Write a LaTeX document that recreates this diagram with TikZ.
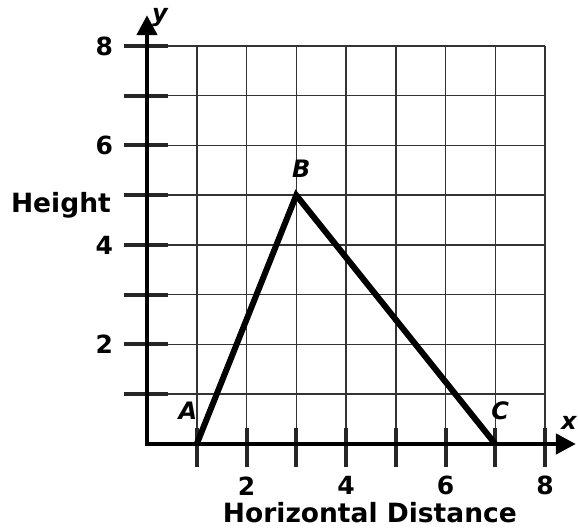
\documentclass[tikz,border=0pt]{standalone}
\usepackage{fontspec}
\setmainfont{DejaVu Sans}
\usetikzlibrary{arrows.meta}
\begin{document}
\begin{tikzpicture}[x=1pt,y=1pt,
  gridline/.style={line width=1.5pt,black!80},
  axisline/.style={line width=4.5pt,black},
  tickline/.style={line width=4pt,black!85},
  tri/.style={line width=6pt,black,line join=miter},
  num/.style={font=\fontsize{25}{25}\selectfont\bfseries,inner sep=0pt},
  ptlabel/.style={font=\fontsize{24}{24}\selectfont\bfseries\itshape,inner sep=0pt},
  axtitle/.style={font=\fontsize{26.5}{26.5}\selectfont\bfseries,inner sep=0pt}]
\useasboundingbox (0,0) rectangle (578,529);
\begin{scope}[shift={(147,85)},x=49.75pt,y=49.75pt]
  % grid
  \foreach \i in {1,...,8} {
    \draw[gridline] (\i,0) -- (\i,8);
    \draw[gridline] (0,\i) -- (8,\i);
  }
  % ticks
  \foreach \i in {1,...,8} {
    \draw[tickline] (-0.46,\i) -- (0.42,\i);
    \draw[tickline] (\i,-0.46) -- (\i,0.32);
  }
  % axes
  \coordinate (O) at (0,0);
  \coordinate (xend) at (8.62,0);
  \coordinate (yend) at (0,8.62);
  \draw[axisline,-{Triangle[length=20pt,width=20pt]}] (-0.045,0) -- (xend);
  \draw[axisline,-{Triangle[length=20pt,width=20pt]}] (0,-0.045) -- (yend);
  % triangle
  \coordinate (A) at (1,0);
  \coordinate (B) at (3,5);
  \coordinate (C) at (7,0);
  \draw[tri] (A) -- (B) -- (C);
  % labels
  \node[ptlabel] (lA) at (0.82,0.66) {A};
  \node[ptlabel] (lB) at (3.1,5.53) {B};
  \node[ptlabel] (lC) at (7.1,0.66) {C};
  \node[ptlabel] (lx) at (8.48,0.43) {x};
  \node[ptlabel] (ly) at (0.26,8.57) {y};
  \foreach \v in {2,4,6,8} {
    \node[num,anchor=east] (yl\v) at (-0.68,\v) {\v};
    \node[num] (xl\v) at (\v,-0.84) {\v};
  }
  \node[axtitle] (yt) at (-1.73,4.8) {Height};
  \node[axtitle] (xt) at (4.48,-1.37) {Horizontal Distance};
\end{scope}
\end{tikzpicture}
\end{document}
